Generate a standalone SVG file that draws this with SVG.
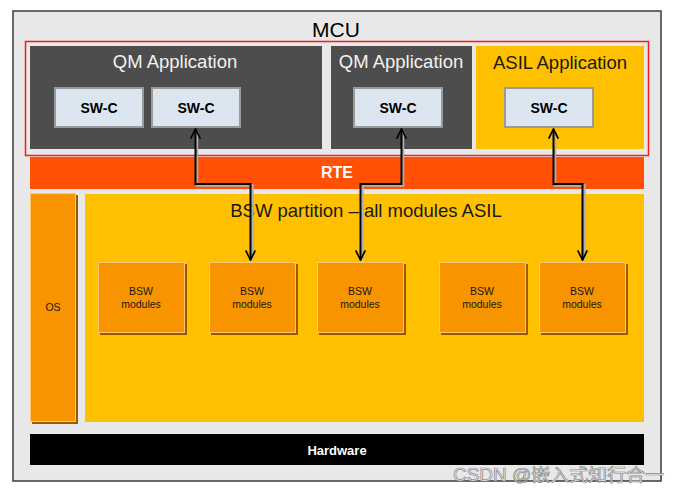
<svg xmlns="http://www.w3.org/2000/svg" width="680" height="496" viewBox="0 0 680 496">
<defs>
<style>
.app{fill:#4d4d4d}
.apptxt{font-family:"Liberation Sans",Arial,sans-serif;font-size:18.5px;fill:#f2f2f2;text-anchor:middle}
.swc{fill:#dce6f0;stroke:#9a9a9a;stroke-width:2}
.swctxt{font-family:"Liberation Sans",Arial,sans-serif;font-size:14px;font-weight:bold;fill:#000;text-anchor:middle}
.bsw{fill:#f79400;stroke:#ffc870;stroke-width:1}
.bswsh{fill:#9c5a00}
.small{font-family:"Liberation Sans",Arial,sans-serif;font-size:10.5px;fill:#1a1a1a;text-anchor:middle}
.wire{fill:none;stroke:#000;stroke-width:2}
.shadow{fill:none;stroke:#b0b0b0;stroke-width:2.5}
</style>
<marker id="ah" viewBox="0 0 10 10" refX="9" refY="5" markerWidth="6" markerHeight="6" orient="auto-start-reverse" markerUnits="strokeWidth">
<path d="M1,1 L9,5 L1,9" fill="none" stroke="#000" stroke-width="1.4"/>
</marker>
</defs>
<rect width="680" height="496" fill="#fff"/>
<g id="mcu">
<rect x="13" y="11" width="648" height="470" fill="#e8e8e8" stroke="#3a3a3a" stroke-width="1.5"/>
<text x="336" y="37" font-family="'Liberation Sans',Arial,sans-serif" font-size="21" fill="#000" text-anchor="middle">MCU</text>
</g>
<g id="app-area">
<rect x="25.5" y="41.5" width="623" height="114" fill="none" stroke="#ff1a1a" stroke-width="1.5"/>
</g>
<g id="qm-app-1">
<rect class="app" x="30" y="46" width="292" height="103"/>
<text class="apptxt" x="175" y="68">QM Application</text>
</g>
<g id="qm-app-2">
<rect class="app" x="331" y="46" width="141" height="103"/>
<text class="apptxt" x="401" y="68">QM Application</text>
</g>
<g id="asil-app">
<rect x="476" y="46" width="168" height="103" fill="#ffc000"/>
<text x="560" y="69" font-family="'Liberation Sans',Arial,sans-serif" font-size="18.5" fill="#1a1a1a" text-anchor="middle">ASIL Application</text>
</g>
<g id="swc-1"><rect class="swc" x="55" y="88" width="88" height="39"/><text class="swctxt" x="99" y="112.5">SW-C</text></g>
<g id="swc-2"><rect class="swc" x="152" y="88" width="88" height="39"/><text class="swctxt" x="196" y="112.5">SW-C</text></g>
<g id="swc-3"><rect class="swc" x="354" y="88" width="88" height="39"/><text class="swctxt" x="398" y="112.5">SW-C</text></g>
<g id="swc-4"><rect class="swc" x="505" y="88" width="88" height="39"/><text class="swctxt" x="549" y="112.5">SW-C</text></g>
<g id="rte">
<rect x="30" y="157" width="614" height="32" fill="#ff5005"/>
<text x="337" y="178" font-family="'Liberation Sans',Arial,sans-serif" font-size="16" font-weight="bold" fill="#fff" text-anchor="middle">RTE</text>
</g>
<g id="os">
<rect class="bswsh" x="32" y="195" width="46" height="229"/>
<rect class="bsw" x="30.5" y="193.5" width="45" height="228"/>
<text class="small" x="53" y="311">OS</text>
</g>
<g id="bsw-partition">
<rect x="85" y="194" width="559" height="228" fill="#ffc000"/>
<text x="366" y="217" font-family="'Liberation Sans',Arial,sans-serif" font-size="18.5" fill="#1a1a1a" text-anchor="middle">BSW partition – all modules ASIL</text>
</g>
<g id="bsw-1"><rect class="bswsh" x="100" y="264" width="87" height="71"/><rect class="bsw" x="98.5" y="262.5" width="86" height="70"/><text class="small" x="141" y="295">BSW</text><text class="small" x="141" y="308">modules</text></g>
<g id="bsw-2"><rect class="bswsh" x="211" y="264" width="87" height="71"/><rect class="bsw" x="209.5" y="262.5" width="86" height="70"/><text class="small" x="252" y="295">BSW</text><text class="small" x="252" y="308">modules</text></g>
<g id="bsw-3"><rect class="bswsh" x="319" y="264" width="87" height="71"/><rect class="bsw" x="317.5" y="262.5" width="86" height="70"/><text class="small" x="360" y="295">BSW</text><text class="small" x="360" y="308">modules</text></g>
<g id="bsw-4"><rect class="bswsh" x="441" y="264" width="87" height="71"/><rect class="bsw" x="439.5" y="262.5" width="86" height="70"/><text class="small" x="482" y="295">BSW</text><text class="small" x="482" y="308">modules</text></g>
<g id="bsw-5"><rect class="bswsh" x="541" y="264" width="87" height="71"/><rect class="bsw" x="539.5" y="262.5" width="86" height="70"/><text class="small" x="582" y="295">BSW</text><text class="small" x="582" y="308">modules</text></g>
<g id="hardware">
<rect x="30" y="434" width="614" height="31" fill="#000"/>
<text x="337" y="454.5" font-family="'Liberation Sans',Arial,sans-serif" font-size="13" font-weight="bold" fill="#fff" text-anchor="middle">Hardware</text>
</g>
<g id="connectors">
<polyline class="shadow" points="197,132 197,185.5 252.5,185.5 252.5,259"/>
<polyline class="shadow" points="403,132 403,185.5 362.5,185.5 362.5,259"/>
<polyline class="shadow" points="555,132 555,185.5 584.5,185.5 584.5,259"/>
<polyline class="wire" points="195.5,129 195.5,184 250.5,184 250.5,260" marker-start="url(#ah)" marker-end="url(#ah)"/>
<polyline class="wire" points="401.5,129 401.5,184 360.5,184 360.5,260" marker-start="url(#ah)" marker-end="url(#ah)"/>
<polyline class="wire" points="553.5,129 553.5,184 582.5,184 582.5,260" marker-start="url(#ah)" marker-end="url(#ah)"/>
</g>
<text x="453" y="481" textLength="211" lengthAdjust="spacingAndGlyphs" font-family="'Liberation Sans','Noto Sans CJK SC',sans-serif" font-size="17.5" fill="#f4f4f4" stroke="#8a8a8a" stroke-width="0.7">CSDN @嵌入式知行合一</text>
</svg>
